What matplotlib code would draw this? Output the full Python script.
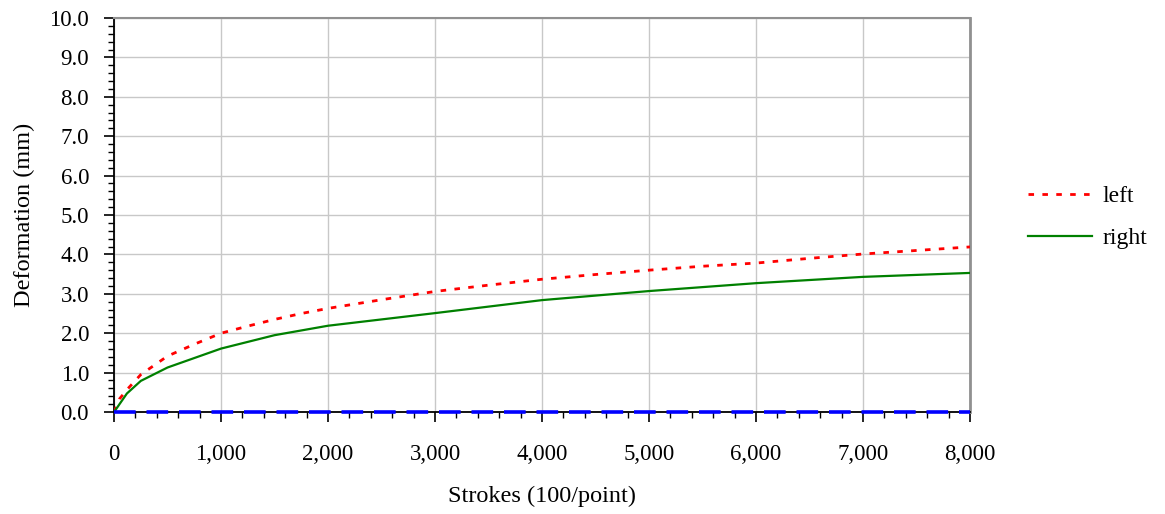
import matplotlib.pyplot as plt
from matplotlib.ticker import MultipleLocator, FuncFormatter

plt.rcParams['font.family'] = ['Liberation Serif', 'DejaVu Serif']

# Data
left_x = [0, 50, 125, 250, 500, 750, 1000, 1250, 1500, 1750, 2000, 2500, 3000,
          3500, 4000, 4500, 5000, 5500, 6000, 6500, 7000, 7500, 8000]
left_y = [0.0, 0.33, 0.58, 0.95, 1.42, 1.72, 2.0, 2.18, 2.35, 2.5, 2.63, 2.85, 3.06,
          3.22, 3.37, 3.49, 3.60, 3.70, 3.78, 3.90, 4.01, 4.10, 4.19]

right_x = [0, 120, 250, 500, 1000, 1500, 2000, 3000, 4000, 5000, 6000, 7000, 8000]
right_y = [0.0, 0.47, 0.79, 1.13, 1.61, 1.95, 2.19, 2.51, 2.84, 3.07, 3.27, 3.43, 3.53]

center_x = [0, 8000]
center_y = [0.0, 0.0]

fig = plt.figure(figsize=(11.65, 5.14), dpi=100)
ax = fig.add_axes([0.0979, 0.1984, 0.7347, 0.7666])

ax.plot(left_x, left_y, color='red', linestyle=(0, (2, 3)), linewidth=2.0, label='left', zorder=3)
ax.plot(right_x, right_y, color='green', linewidth=1.6, label='right', zorder=3)
ax.plot(center_x, center_y, color='blue', linestyle=(0, (6, 3)), linewidth=2.6,
        zorder=4, clip_on=False)

ax.set_xlim(0, 8000)
ax.set_ylim(0, 10)
ax.xaxis.set_major_locator(MultipleLocator(1000))
ax.xaxis.set_minor_locator(MultipleLocator(200))
ax.yaxis.set_major_locator(MultipleLocator(1))
ax.yaxis.set_minor_locator(MultipleLocator(0.2))
ax.xaxis.set_major_formatter(FuncFormatter(lambda v, p: '{:,.0f}'.format(v)))
ax.yaxis.set_major_formatter(FuncFormatter(lambda v, p: '{:.1f}'.format(v)))

ax.grid(True, which='major', color='#c8c8c8', linewidth=1.0)
ax.set_axisbelow(True)

ax.tick_params(axis='both', which='major', direction='out', length=7, width=1.2,
               labelsize=16.5)
ax.tick_params(axis='both', which='minor', direction='out', length=4, width=1.0)
ax.tick_params(axis='x', which='major', pad=16)
ax.tick_params(axis='y', which='major', pad=11)

for s in ['left', 'bottom']:
    ax.spines[s].set_color('black')
    ax.spines[s].set_linewidth(1.3)
ax.spines['right'].set_color('#909090')
ax.spines['right'].set_linewidth(2.0)
ax.spines['top'].set_color('#909090')
ax.spines['top'].set_linewidth(1.5)

ax.set_xlabel('Strokes (100/point)', fontsize=17.5, labelpad=15)
ax.set_ylabel('Deformation (mm)', fontsize=17.5, labelpad=10)

fig.legend(loc='center left', bbox_to_anchor=(0.864, 0.577), frameon=False,
           fontsize=17, handlelength=2.7, handletextpad=0.45, labelspacing=0.85)

fig.savefig('out.png', dpi=100)
